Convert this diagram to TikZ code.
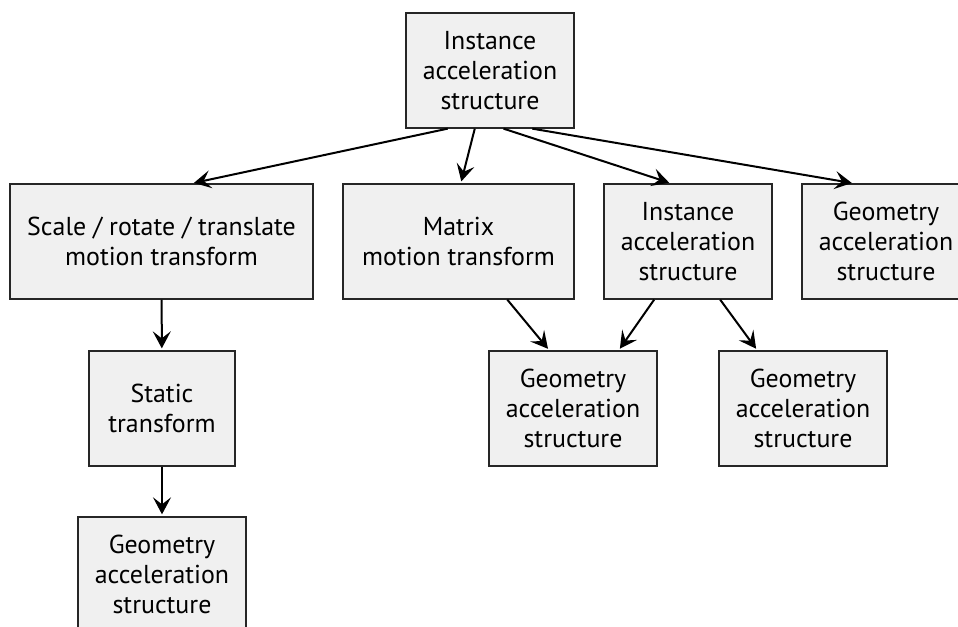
\documentclass[tikz,border=0pt]{standalone}
\usepackage{fontspec}
\setmainfont{PT Sans}
\usetikzlibrary{arrows.meta,calc}
\definecolor{boxfill}{HTML}{F0F0F0}

\begin{document}
\begin{tikzpicture}[x=1bp,y=-1bp,
    box/.style={draw=black!85,line width=1.3bp,fill=boxfill,align=center,
      minimum width=168bp,minimum height=115bp,inner sep=0pt,
      font=\fontsize{26}{30}\selectfont},
    arr/.style={-{Stealth[length=17bp,width=18bp,inset=7bp]},line width=2bp,shorten >=2bp}]
    \useasboundingbox (0,0) rectangle (958,627);
    \clip (0,0) rectangle (958,627);
    % top level
    \node[box] (top) at (490,70.5) {Instance\\acceleration\\structure};
    % second row
    \node[box,minimum width=303bp] (srt) at (161.5,241.5) {Scale / rotate / translate\\motion transform};
    \node[box,minimum width=231bp] (matrix) at (458.5,241.5) {Matrix\\motion transform};
    \node[box] (inst) at (688,241.5) {Instance\\acceleration\\structure};
    \node[box] (geomR) at (886,241.5) {Geometry\\acceleration\\structure};
    % third row
    \node[box,minimum width=146bp] (static) at (162,408.5) {Static\\transform};
    \node[box] (geomM) at (573,408.5) {Geometry\\acceleration\\structure};
    \node[box] (geomL) at (803,408.5) {Geometry\\acceleration\\structure};
    % bottom
    \node[box] (geomB) at (162,574.5) {Geometry\\acceleration\\structure};
    % connectors
    \draw[arr] ($(top.south west)!.25!(top.south east)$) -- ($(srt.north west)!.6!(srt.north east)$);
    \draw[arr] ($(top.south west)!.41!(top.south east)$) -- ($(matrix.north west)!.51!(matrix.north east)$);
    \draw[arr] ($(top.south west)!.58!(top.south east)$) -- ($(inst.north west)!.4!(inst.north east)$);
    \draw[arr] ($(top.south west)!.75!(top.south east)$) -- ($(geomR.north west)!.31!(geomR.north east)$);
    \draw[arr] (srt) -- (static);
    \draw[arr] (static) -- (geomB);
    \draw[arr] ($(matrix.south west)!.71!(matrix.south east)$) -- ($(geomM.north west)!.36!(geomM.north east)$);
    \draw[arr] ($(inst.south west)!.3!(inst.south east)$) -- ($(geomM.north west)!.77!(geomM.north east)$);
    \draw[arr] ($(inst.south west)!.69!(inst.south east)$) -- ($(geomL.north west)!.23!(geomL.north east)$);
\end{tikzpicture}
\end{document}
